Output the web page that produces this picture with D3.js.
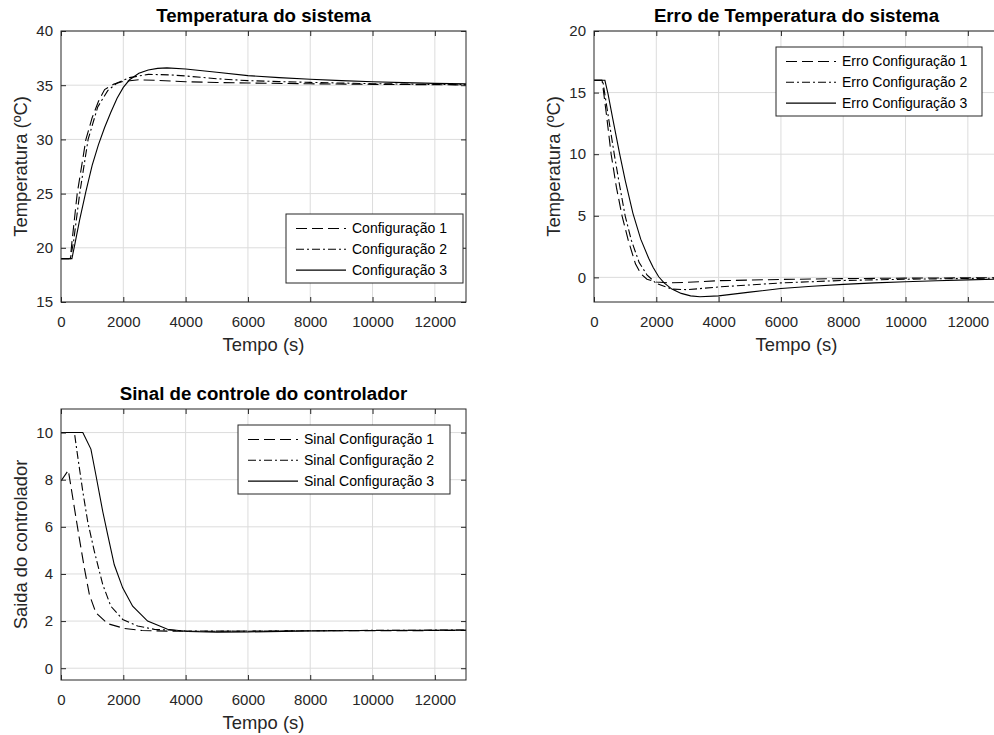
<!DOCTYPE html>
<html>
<head>
<meta charset="utf-8">
<script src="https://cdn.jsdelivr.net/npm/d3@7"></script>
<style>
  body { margin: 0; background: #fff; }
  svg { display: block; font-family: "Liberation Sans", Arial, Helvetica, sans-serif; }
</style>
</head>
<body>
<div id="chart"></div>
<script>
// time axis (s) shared by all three plots
var tempoTicks = [0, 2000, 4000, 6000, 8000, 10000, 12000];
var tempoMax = 13000;

// Temperatura do sistema  [t, T]
var tempConfig1 = [[0,19],[300,19],[350,20.5],[520,25],[800,30],[1000,32],[1200,33.5],[1400,34.6],[1700,35.1],[2000,35.35],[2500,35.5],[3000,35.45],[4000,35.32],[5000,35.25],[6000,35.2],[8000,35.13],[10000,35.08],[13000,35.03]];
var tempConfig2 = [[0,19],[300,19],[400,20.5],[600,25],[870,30],[1180,33],[1500,34.5],[1800,35.2],[2200,35.7],[2800,36.0],[3500,35.95],[4000,35.85],[5000,35.6],[6000,35.42],[7000,35.33],[8000,35.26],[10000,35.14],[12000,35.07],[13000,35.05]];
var tempConfig3 = [[0,19],[350,19],[450,20.4],[600,22.6],[800,25.2],[1000,27.6],[1200,29.5],[1400,31.1],[1600,32.5],[1800,33.8],[2000,34.8],[2200,35.5],[2500,36.1],[2800,36.4],[3100,36.55],[3400,36.6],[4000,36.5],[5000,36.2],[6000,35.88],[7000,35.7],[8000,35.55],[9000,35.42],[10000,35.32],[11000,35.24],[12000,35.17],[13000,35.12]];
var tempTicks = [15, 20, 25, 30, 35, 40];

// Erro de Temperatura do sistema  [t, e]
var erroConfig1 = [[0,16],[260,16],[400,13.2],[550,10],[720,7.3],[900,5],[1100,3],[1330,1.1],[1500,0.3],[1700,-0.15],[2000,-0.38],[2400,-0.45],[3000,-0.4],[4000,-0.27],[6000,-0.17],[8000,-0.1],[10000,-0.06],[13000,-0.03]];
var erroConfig2 = [[0,16],[280,16],[450,13.2],[650,10],[820,7.5],[1000,5],[1200,3],[1450,1.2],[1700,0.2],[2000,-0.5],[2500,-0.95],[3000,-1.0],[4000,-0.78],[6000,-0.45],[8000,-0.25],[10000,-0.15],[13000,-0.06]];
var erroConfig3 = [[0,16],[350,16],[450,14.9],[600,12.9],[825,10],[1000,7.9],[1250,5.2],[1500,3.1],[1755,1.55],[1900,0.8],[2077,0.05],[2250,-0.45],[2500,-0.95],[2800,-1.3],[3100,-1.5],[3400,-1.57],[4000,-1.5],[5000,-1.2],[6000,-0.9],[7000,-0.72],[8000,-0.57],[9000,-0.45],[10000,-0.35],[11000,-0.27],[12000,-0.2],[13000,-0.15]];
var erroTicks = [0, 5, 10, 15, 20];

// Sinal de controle do controlador  [t, u]
var sinalConfig1 = [[0,7.95],[235,8.4],[430,6.8],[590,5.5],[750,4.25],[910,3.13],[1120,2.35],[1500,1.89],[2030,1.69],[2600,1.6],[3500,1.57],[5000,1.57],[8000,1.59],[13000,1.6]];
var sinalConfig2 = [[0,10],[430,10],[535,9.0],[700,7.5],[860,6.2],[1070,4.96],[1340,3.55],[1600,2.63],[1980,2.07],[2460,1.79],[3000,1.65],[4000,1.58],[6000,1.57],[9000,1.6],[13000,1.62]];
var sinalConfig3 = [[0,10],[700,10],[960,9.3],[1120,8.2],[1340,6.65],[1500,5.66],[1710,4.39],[1980,3.41],[2300,2.63],[2780,2.0],[3420,1.65],[4070,1.56],[5000,1.53],[6000,1.54],[8000,1.58],[10000,1.6],[13000,1.62]];
var sinalTicks = [0, 2, 4, 6, 8, 10];

var dashStyles = ["11,5", "8,3,2,3", null];

var svg = d3.select("#chart").append("svg")
  .attr("width", 994)
  .attr("height", 735);

function drawPanel(p) {
  var g = svg.append("g").attr("transform", "translate(" + p.left + "," + p.top + ")");
  var width = p.width, height = p.height;

  var x = d3.scaleLinear().domain([0, tempoMax]).range([0, width]);
  var y = d3.scaleLinear().domain(p.yDomain).range([height, 0]);

  // grid
  g.append("g").selectAll("line").data(tempoTicks.slice(1)).enter().append("line")
    .attr("x1", d => x(d)).attr("x2", d => x(d))
    .attr("y1", 0).attr("y2", height)
    .style("stroke", "#dcdcdc");
  g.append("g").selectAll("line").data(p.yTicks).enter().append("line")
    .attr("x1", 0).attr("x2", width)
    .attr("y1", d => y(d)).attr("y2", d => y(d))
    .style("stroke", "#dcdcdc");

  // curves
  var clipId = "clip" + p.id;
  g.append("clipPath").attr("id", clipId).append("rect")
    .attr("width", width).attr("height", height);
  var line = d3.line().x(d => x(d[0])).y(d => y(d[1]));
  p.series.forEach(function(s, i) {
    g.append("path")
      .attr("clip-path", "url(#" + clipId + ")")
      .attr("d", line(s))
      .style("fill", "none")
      .style("stroke", "#000")
      .style("stroke-width", 1.1)
      .style("stroke-dasharray", dashStyles[i]);
  });

  // axes, MATLAB style: ticks inside, on all four sides
  var axisStyle = function(sel) {
    sel.select(".domain").remove();
    sel.selectAll(".tick line").style("stroke", "#262626");
    sel.selectAll("text").style("fill", "#262626").style("font-size", "15px");
  };
  g.append("g").attr("transform", "translate(0," + height + ")")
    .call(d3.axisBottom(x).tickValues(tempoTicks).tickFormat(d3.format("d")).tickSizeInner(-5).tickSizeOuter(0).tickPadding(14))
    .call(axisStyle);
  g.append("g")
    .call(d3.axisTop(x).tickValues(tempoTicks).tickFormat("").tickSizeInner(-5).tickSizeOuter(0))
    .call(axisStyle);
  g.append("g")
    .call(d3.axisLeft(y).tickValues(p.yTicks).tickFormat(d3.format("d")).tickSizeInner(-5).tickSizeOuter(0).tickPadding(8))
    .call(axisStyle);
  g.append("g").attr("transform", "translate(" + width + ",0)")
    .call(d3.axisRight(y).tickValues(p.yTicks).tickFormat("").tickSizeInner(-5).tickSizeOuter(0))
    .call(axisStyle);

  g.append("rect")
    .attr("width", width).attr("height", height)
    .style("fill", "none").style("stroke", "#262626").style("stroke-width", 1);

  // title and labels
  g.append("text")
    .attr("x", width / 2).attr("y", -9)
    .attr("text-anchor", "middle")
    .style("font-weight", "bold").style("font-size", "18.7px")
    .text(p.title);
  g.append("text")
    .attr("x", width / 2).attr("y", height + 49)
    .attr("text-anchor", "middle")
    .style("font-size", "18.4px").style("fill", "#262626")
    .text("Tempo (s)");
  g.append("text")
    .attr("transform", "translate(-34," + (height / 2) + ") rotate(-90)")
    .attr("text-anchor", "middle")
    .style("font-size", "18.4px").style("fill", "#262626")
    .text(p.yLabel);

  // legend
  var lg = g.append("g").attr("transform", "translate(" + p.legend.x + "," + p.legend.y + ")");
  lg.append("rect")
    .attr("width", p.legend.w).attr("height", 69)
    .style("fill", "#fff").style("stroke", "#262626").style("stroke-width", 1);
  p.names.forEach(function(name, i) {
    var cy = 14.5 + i * 20.8;
    lg.append("line")
      .attr("x1", 10).attr("x2", 60).attr("y1", cy).attr("y2", cy)
      .style("stroke", "#000").style("stroke-width", 1.1)
      .style("stroke-dasharray", dashStyles[i]);
    lg.append("text")
      .attr("x", 66).attr("y", cy).attr("dy", "0.35em")
      .style("font-size", "14px").style("fill", "#000")
      .text(name);
  });
}

drawPanel({
  id: 1, left: 61, top: 31, width: 405, height: 271,
  yDomain: [15, 40], yTicks: tempTicks,
  title: "Temperatura do sistema", yLabel: "Temperatura (ºC)",
  series: [tempConfig1, tempConfig2, tempConfig3],
  names: ["Configuração 1", "Configuração 2", "Configuração 3"],
  legend: {x: 225, y: 183, w: 177}
});

drawPanel({
  id: 2, left: 594, top: 31, width: 405, height: 271,
  yDomain: [-2, 20], yTicks: erroTicks,
  title: "Erro de Temperatura do sistema", yLabel: "Temperatura (ºC)",
  series: [erroConfig1, erroConfig2, erroConfig3],
  names: ["Erro Configuração 1", "Erro Configuração 2", "Erro Configuração 3"],
  legend: {x: 182, y: 16, w: 206}
});

drawPanel({
  id: 3, left: 61, top: 409, width: 405, height: 271,
  yDomain: [-0.5, 11], yTicks: sinalTicks,
  title: "Sinal de controle do controlador", yLabel: "Saida do controlador",
  series: [sinalConfig1, sinalConfig2, sinalConfig3],
  names: ["Sinal Configuração 1", "Sinal Configuração 2", "Sinal Configuração 3"],
  legend: {x: 177, y: 16, w: 212}
});
</script>
</body>
</html>
